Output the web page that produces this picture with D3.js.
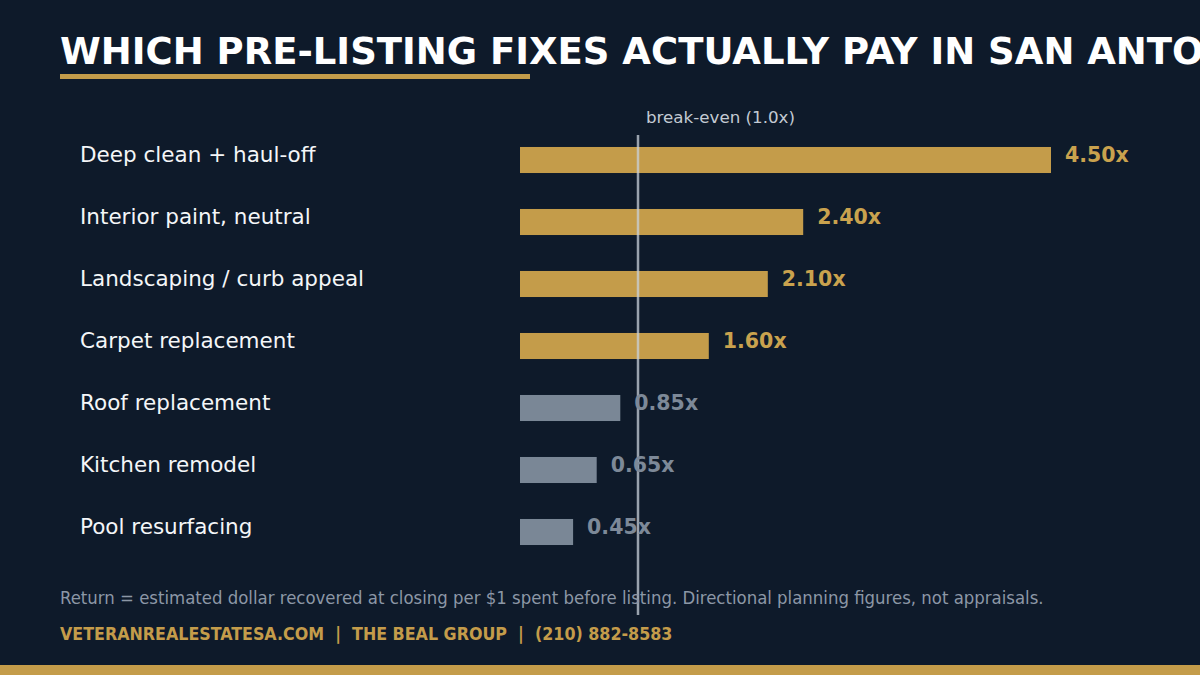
<!DOCTYPE html>
<html>
<head>
<meta charset="utf-8">
<script src="https://cdn.jsdelivr.net/npm/d3@7"></script>
<style>
  html, body { margin: 0; padding: 0; background: #0e1a2a; }
  svg { display: block; }
</style>
</head>
<body>
<svg id="chart" width="1200" height="675"></svg>
<script>
var categories = [
    "Deep clean + haul-off",
    "Interior paint, neutral",
    "Landscaping / curb appeal",
    "Carpet replacement",
    "Roof replacement",
    "Kitchen remodel",
    "Pool resurfacing"
]
var returns = [4.50, 2.40, 2.10, 1.60, 0.85, 0.65, 0.45]
var breakEven = 1.0

var gold = "#c49c4a"
var grey = "#7a8796"
var bg = "#0e1a2a"

var svg = d3.select("svg#chart"),
    width = +svg.attr("width"),
    height = +svg.attr("height")

svg.append("rect").attr("width", width).attr("height", height).attr("fill", bg)

// title + underline (runs off the right edge, as in the original)
svg.append("text")
    .attr("x", 60).attr("y", 64)
    .text("WHICH PRE-LISTING FIXES ACTUALLY PAY IN SAN ANTONIO")
    .style("font-family", "DejaVu Sans")
    .style("font-weight", "bold")
    .style("font-size", "37px")
    .attr("fill", "#ffffff")

svg.append("rect").attr("x", 60).attr("y", 74).attr("width", 470).attr("height", 5).attr("fill", gold)

var x = d3.scaleLinear().domain([0, 4.5]).range([520, 1051])
var y = d3.scaleBand().domain(categories).range([129, 563])
    .paddingInner(0.58).paddingOuter(0.29)

var rows = categories.map(function (c, i) {
    return { name: c, value: returns[i] }
})

var g = svg.append("g")

g.selectAll(".bar").data(rows).enter().append("rect")
    .attr("class", "bar")
    .attr("x", x(0))
    .attr("y", function (d) { return y(d.name) })
    .attr("width", function (d) { return x(d.value) - x(0) })
    .attr("height", y.bandwidth())
    .attr("fill", function (d) { return d.value >= breakEven ? gold : grey })

g.selectAll(".cat").data(rows).enter().append("text")
    .attr("class", "cat")
    .attr("x", 80)
    .attr("y", function (d) { return y(d.name) + 15 })
    .text(function (d) { return d.name })
    .style("font-family", "DejaVu Sans")
    .style("font-size", "21.5px")
    .attr("fill", "#f4f6f8")

// break-even line
g.append("line")
    .attr("x1", x(breakEven)).attr("x2", x(breakEven))
    .attr("y1", 135).attr("y2", 615)
    .attr("stroke", "#c8d0da")
    .attr("stroke-opacity", 0.75)
    .attr("stroke-width", 2.5)

g.append("text")
    .attr("x", x(breakEven) + 8).attr("y", 123)
    .text("break-even (" + breakEven.toFixed(1) + "x)")
    .style("font-family", "DejaVu Sans")
    .style("font-size", "16.7px")
    .attr("fill", "#c3cad3")

g.selectAll(".val").data(rows).enter().append("text")
    .attr("class", "val")
    .attr("x", function (d) { return x(d.value) + 14 })
    .attr("y", function (d) { return y(d.name) + 15 })
    .text(function (d) { return d.value.toFixed(2) + "x" })
    .style("font-family", "DejaVu Sans")
    .style("font-weight", "bold")
    .style("font-size", "20.5px")
    .attr("fill", function (d) { return d.value >= breakEven ? "#c9a24e" : "#7d8998" })

// footnote + footer
svg.append("text")
    .attr("x", 60).attr("y", 604)
    .text("Return = estimated dollar recovered at closing per $1 spent before listing. Directional planning figures, not appraisals.")
    .style("font-family", "DejaVu Sans Condensed, DejaVu Sans")
    .style("font-stretch", "condensed")
    .style("font-size", "18.4px")
    .attr("fill", "#8c97a6")

svg.append("text")
    .attr("x", 60).attr("y", 640)
    .text("VETERANREALESTATESA.COM  |  THE BEAL GROUP  |  (210) 882-8583")
    .attr("xml:space", "preserve")
    .style("white-space", "pre")
    .style("font-family", "DejaVu Sans Condensed, DejaVu Sans")
    .style("font-stretch", "condensed")
    .style("font-weight", "bold")
    .style("font-size", "17.7px")
    .attr("fill", gold)

svg.append("rect").attr("x", 0).attr("y", 665).attr("width", width).attr("height", 10).attr("fill", gold)
</script>
</body>
</html>
